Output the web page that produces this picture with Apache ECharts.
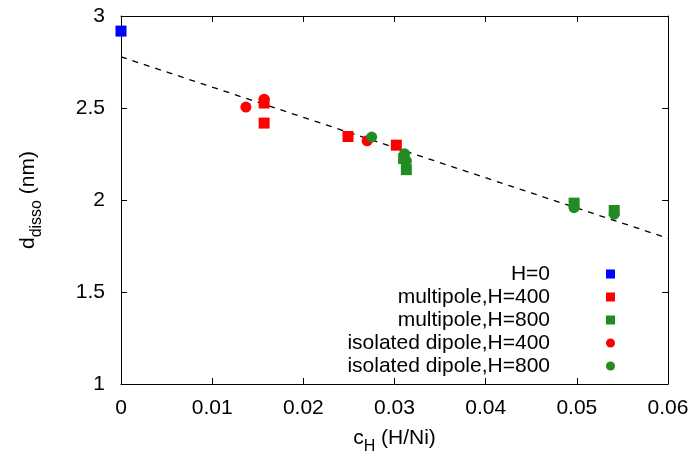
<!DOCTYPE html>
<html>
<head>
<meta charset="utf-8">
<script src="https://cdn.jsdelivr.net/npm/echarts@6/dist/echarts.min.js"></script>
<style>html,body{margin:0;padding:0;background:#fff;}#c{width:698px;height:461px;}</style>
</head>
<body>
<div id="c"></div>
<script>
// Data (x = c_H in H/Ni, y = d_disso in nm)
const h0 = [[0.0, 2.918]];
const multipole400 = [[0.0157, 2.527], [0.0157, 2.418], [0.0249, 2.345], [0.0302, 2.298]];
const multipole800 = [[0.0310, 2.225], [0.0313, 2.165], [0.0497, 1.983], [0.0541, 1.943]];
const isolated400 = [[0.0137, 2.505], [0.0157, 2.548], [0.0270, 2.322]];
const isolated800 = [[0.0275, 2.342], [0.0311, 2.252], [0.0313, 2.212], [0.0497, 1.958], [0.0541, 1.923]];
const fitX = [0.0, 0.06];
const fitY = [2.778, 1.792];
const xTicks = { min: 0, max: 0.06, interval: 0.01 };
const yTicks = { min: 1, max: 3, interval: 0.5 };

const FONT = 'Liberation Sans';
const chart = echarts.init(document.getElementById('c'), null, { renderer: 'canvas' });
const tickStyle = { show: true, inside: true, length: 6, lineStyle: { color: '#000', width: 1 } };
const lineStyle = { show: true, onZero: false, lineStyle: { color: '#000', width: 1 } };
const sq = (name, data, color) => ({ name, type: 'scatter', data, symbol: 'rect', symbolSize: 11, itemStyle: { color, opacity: 1 }, z: 3 });
const ci = (name, data, color) => ({ name, type: 'scatter', data, symbol: 'circle', symbolSize: 11, itemStyle: { color, opacity: 1 }, z: 3 });

chart.setOption({
  animation: false,
  backgroundColor: '#fff',
  textStyle: { fontFamily: FONT },
  grid: { left: 121, right: 30, top: 16, bottom: 77, containLabel: false },
  legend: {
    orient: 'vertical', align: 'right', right: 78, top: 258,
    itemWidth: 9, itemHeight: 9, itemGap: 1,
    textStyle: { fontFamily: FONT, fontSize: 21, color: '#000', lineHeight: 22, padding: [0, 51, 0, 0] },
    data: [
      { name: 'H=0', icon: 'rect' },
      { name: 'multipole,H=400', icon: 'rect' },
      { name: 'multipole,H=800', icon: 'rect' },
      { name: 'isolated dipole,H=400', icon: 'circle' },
      { name: 'isolated dipole,H=800', icon: 'circle' }
    ]
  },
  xAxis: [{
    type: 'value', min: xTicks.min, max: xTicks.max, interval: xTicks.interval,
    axisLine: lineStyle, axisTick: tickStyle, splitLine: { show: false },
    axisLabel: { color: '#000', fontSize: 21, fontFamily: FONT, margin: 14 },
    name: '{a|c}{s|H}{a| (H/Ni)}', nameLocation: 'middle', nameGap: 44,
    nameTextStyle: { rich: {
      a: { fontSize: 21, fontFamily: FONT, color: '#000', lineHeight: 23, verticalAlign: 'top' },
      s: { fontSize: 16, fontFamily: FONT, color: '#000', lineHeight: 16, padding: [11, 0, 0, 0], verticalAlign: 'top' }
    } }
  }, {
    type: 'value', position: 'top', min: xTicks.min, max: xTicks.max, interval: xTicks.interval,
    axisLine: lineStyle, axisTick: tickStyle, axisLabel: { show: false }, splitLine: { show: false }
  }],
  yAxis: [{
    type: 'value', min: yTicks.min, max: yTicks.max, interval: yTicks.interval,
    axisLine: lineStyle, axisTick: tickStyle, splitLine: { show: false },
    axisLabel: { color: '#000', fontSize: 21, fontFamily: FONT, margin: 16 },
    name: '{a|d}{s|disso}{a| (nm)}', nameLocation: 'middle', nameGap: 80, nameRotate: 90,
    nameTextStyle: { rich: {
      a: { fontSize: 21, fontFamily: FONT, color: '#000', lineHeight: 23, verticalAlign: 'top' },
      s: { fontSize: 16, fontFamily: FONT, color: '#000', lineHeight: 16, padding: [11, 0, 0, 0], verticalAlign: 'top' }
    } }
  }, {
    type: 'value', position: 'right', min: yTicks.min, max: yTicks.max, interval: yTicks.interval,
    axisLine: lineStyle, axisTick: tickStyle, axisLabel: { show: false }, splitLine: { show: false }
  }],
  series: [
    {
      name: 'fit', type: 'line', data: fitX.map((x, i) => [x, fitY[i]]),
      symbol: 'none', lineStyle: { color: '#000', width: 1.3, type: [6, 6] }, z: 2, legendHoverLink: false
    },
    sq('H=0', h0, '#0000ff'),
    sq('multipole,H=400', multipole400, '#ff0000'),
    sq('multipole,H=800', multipole800, '#228b22'),
    ci('isolated dipole,H=400', isolated400, '#ff0000'),
    ci('isolated dipole,H=800', isolated800, '#228b22')
  ]
});
</script>
</body>
</html>
